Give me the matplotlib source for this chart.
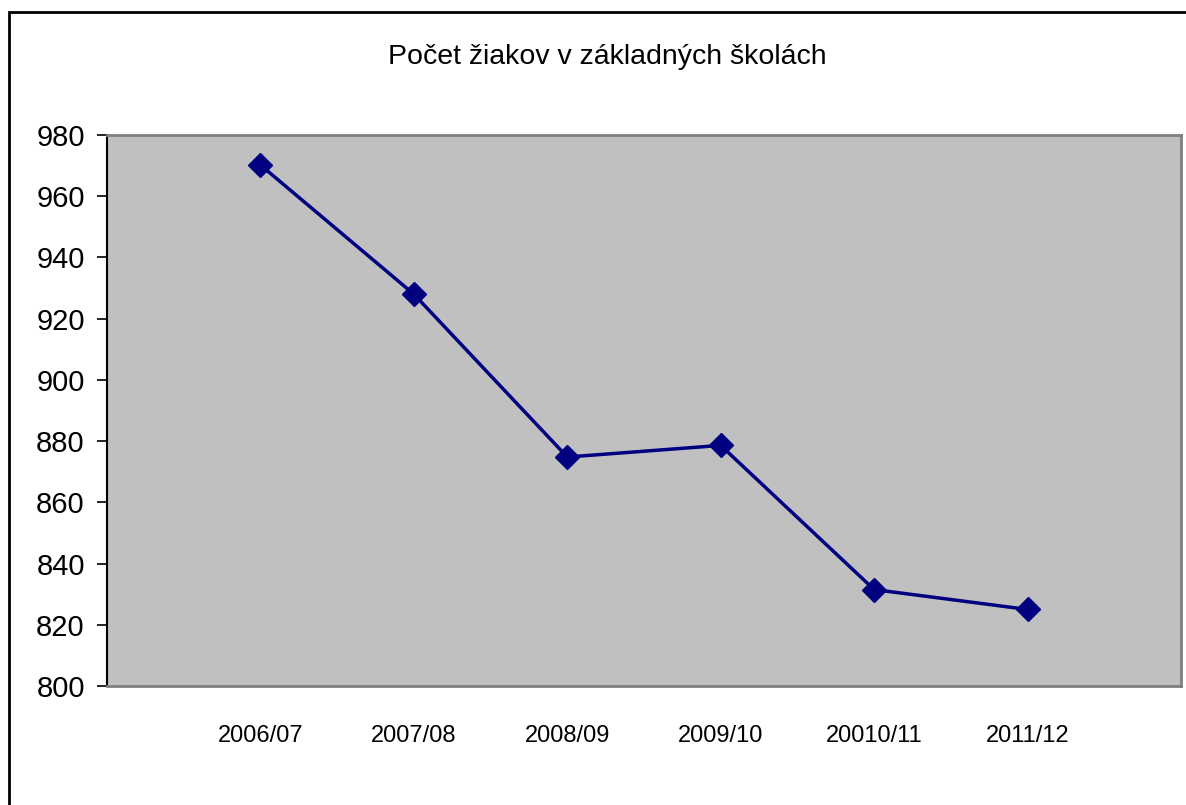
import matplotlib.pyplot as plt
from matplotlib.patches import Rectangle

plt.rcParams['font.family'] = ['Liberation Sans', 'DejaVu Sans']

# data
years = ['2006/07', '2007/08', '2008/09', '2009/10', '20010/11', '2011/12']
pupils = [970.2, 928, 874.8, 878.6, 831.5, 825]
title = 'Počet žiakov v základných školách'

fig = plt.figure(figsize=(11.86, 8.05), dpi=100)
W, H = 1186, 805

# outer chart border (cropped at right and bottom in the original)
fig.patches.append(Rectangle((9 / W, -0.05), 1.2, 1 - 12 / H + 0.05,
                             transform=fig.transFigure, fill=False,
                             edgecolor='black', linewidth=2))

ax = fig.add_axes([107 / W, 1 - 686 / H, (1181 - 107) / W, (686 - 135) / H])
ax.set_facecolor('#C0C0C0')
x = list(range(1, len(years) + 1))
ax.plot(x, pupils, color='#000080', linewidth=2.5, marker='D', markersize=12)

ax.set_xlim(0, len(years) + 1)
ax.set_ylim(800, 980)
ax.set_yticks(range(800, 981, 20))
ax.set_xticks(x)
ax.set_xticklabels(years, fontsize=17)
ax.tick_params(axis='x', length=0, pad=28)
ax.tick_params(axis='y', length=7, width=1.2, labelsize=21, pad=9, direction='out')

for side in ['top', 'right', 'bottom']:
    ax.spines[side].set_color('#808080')
    ax.spines[side].set_linewidth(2)
ax.spines['left'].set_color('black')
ax.spines['left'].set_linewidth(1.5)

fig.text(607 / W, 1 - 57 / H, title, ha='center', va='center', fontsize=20.5)

fig.savefig('out.png', dpi=100)
